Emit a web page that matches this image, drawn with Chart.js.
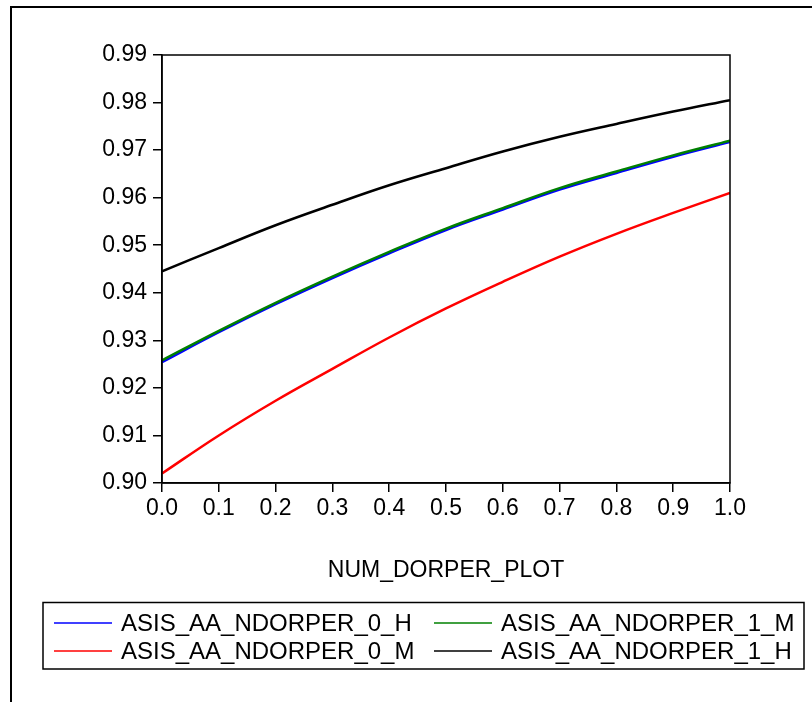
<!DOCTYPE html>
<html>
<head>
<meta charset="utf-8">
<script src="https://cdn.jsdelivr.net/npm/chart.js@4.4.0/dist/chart.umd.min.js"></script>
<style>
  html, body { margin: 0; padding: 0; background: #fff; }
  #wrap { width: 812px; height: 702px; position: relative; }
</style>
</head>
<body>
<div id="wrap"><canvas id="chart"></canvas></div>
<script>
// x values (NUM_DORPER_PLOT)
const xValues = [0.0, 0.1, 0.2, 0.3, 0.4, 0.5, 0.6, 0.7, 0.8, 0.9, 1.0];
const xTicks = [0.0, 0.1, 0.2, 0.3, 0.4, 0.5, 0.6, 0.7, 0.8, 0.9, 1.0];
const yTicks = [0.90, 0.91, 0.92, 0.93, 0.94, 0.95, 0.96, 0.97, 0.98, 0.99];

// series
const ndorper0H = [0.9254, 0.9317, 0.9376, 0.9431, 0.9483, 0.9532, 0.9575, 0.9617, 0.9652, 0.9686, 0.9717];
const ndorper1M = [0.9258, 0.9320, 0.9379, 0.9434, 0.9486, 0.9535, 0.9578, 0.9620, 0.9655, 0.9689, 0.9720];
const ndorper0M = [0.9020, 0.9100, 0.9173, 0.9240, 0.9306, 0.9367, 0.9423, 0.9476, 0.9524, 0.9568, 0.9610];
const ndorper1H = [0.9445, 0.9494, 0.9542, 0.9585, 0.9626, 0.9662, 0.9697, 0.9728, 0.9755, 0.9781, 0.9805];

const FONT = '"Liberation Sans", Arial, sans-serif';

function toPoints(ys) {
    return xValues.map((x, i) => ({ x: x, y: ys[i] }));
}

// legend order is row by row: 0_H, 1_M / 0_M, 1_H
const datasets = [
    { label: 'ASIS_AA_NDORPER_0_H', data: toPoints(ndorper0H), borderColor: '#0000ff', order: 1 },
    { label: 'ASIS_AA_NDORPER_1_M', data: toPoints(ndorper1M), borderColor: '#008000', order: 0 },
    { label: 'ASIS_AA_NDORPER_0_M', data: toPoints(ndorper0M), borderColor: '#ff0000', order: 1 },
    { label: 'ASIS_AA_NDORPER_1_H', data: toPoints(ndorper1H), borderColor: '#000000', order: 1 },
].map((d) => ({ ...d, borderWidth: 2.5, pointRadius: 0, fill: false, tension: 0.4 }));

// outer frame, plot box and boxed legend
const framePlugin = {
    id: 'frame',
    beforeDraw(chart) {
        const ctx = chart.ctx;
        ctx.save();
        ctx.fillStyle = '#fff';
        ctx.fillRect(0, 0, chart.width, chart.height);
        ctx.strokeStyle = '#000';
        ctx.lineWidth = 2;
        ctx.beginPath();
        ctx.moveTo(11, chart.height);
        ctx.lineTo(11, 7);
        ctx.lineTo(chart.width, 7);
        ctx.stroke();
        ctx.restore();
    },
    afterDraw(chart) {
        const ctx = chart.ctx;
        const a = chart.chartArea;
        ctx.save();
        ctx.strokeStyle = '#000';
        ctx.lineWidth = 1.5;
        ctx.strokeRect(a.left, a.top, a.right - a.left, a.bottom - a.top);

        // legend
        ctx.lineWidth = 1.5;
        ctx.strokeRect(43, 602.5, 761, 66.5);
        const cols = [54, 434];
        const rows = [623, 651];
        ctx.font = '24px ' + FONT;
        ctx.textBaseline = 'middle';
        ctx.textAlign = 'left';
        chart.data.datasets.forEach((ds, i) => {
            const x = cols[i % 2];
            const y = rows[Math.floor(i / 2)];
            ctx.strokeStyle = ds.borderColor;
            ctx.lineWidth = 1.5;
            ctx.beginPath();
            ctx.moveTo(x, y);
            ctx.lineTo(x + 58, y);
            ctx.stroke();
            ctx.fillStyle = '#000';
            ctx.fillText(ds.label, x + 67, y + 1);
        });
        ctx.restore();
    },
};

new Chart(document.getElementById('chart').getContext('2d'), {
    type: 'line',
    data: { datasets },
    plugins: [framePlugin],
    options: {
        responsive: true,
        maintainAspectRatio: false,
        animation: false,
        layout: { padding: { left: 0, top: 55, right: 82, bottom: 118 } },
        plugins: {
            legend: { display: false },
            tooltip: { enabled: false },
        },
        scales: {
            x: {
                type: 'linear',
                min: 0,
                max: 1,
                afterBuildTicks: (s) => { s.ticks = xTicks.map((v) => ({ value: v })); },
                afterFit: (s) => { s.height = 101; },
                grid: { drawOnChartArea: false, tickLength: 9, color: '#000', lineWidth: 1.5 },
                border: { color: '#000', width: 1.5 },
                ticks: {
                    color: '#000',
                    padding: 3,
                    maxRotation: 0,
                    font: { family: FONT, size: 23 },
                    callback: (v) => Number(v).toFixed(1),
                },
                title: {
                    display: true,
                    text: 'NUM_DORPER_PLOT',
                    color: '#000',
                    padding: { top: 0, bottom: 0 },
                    font: { family: FONT, size: 23 },
                },
            },
            y: {
                min: 0.90,
                max: 0.99,
                afterBuildTicks: (s) => { s.ticks = yTicks.map((v) => ({ value: v })); },
                afterFit: (s) => { s.width = 162; },
                grid: { drawOnChartArea: false, tickLength: 9, color: '#000', lineWidth: 1.5 },
                border: { color: '#000', width: 1.5 },
                ticks: {
                    color: '#000',
                    padding: 6,
                    font: { family: FONT, size: 23 },
                    callback: (v) => Number(v).toFixed(2),
                },
            },
        },
    },
});
</script>
</body>
</html>
